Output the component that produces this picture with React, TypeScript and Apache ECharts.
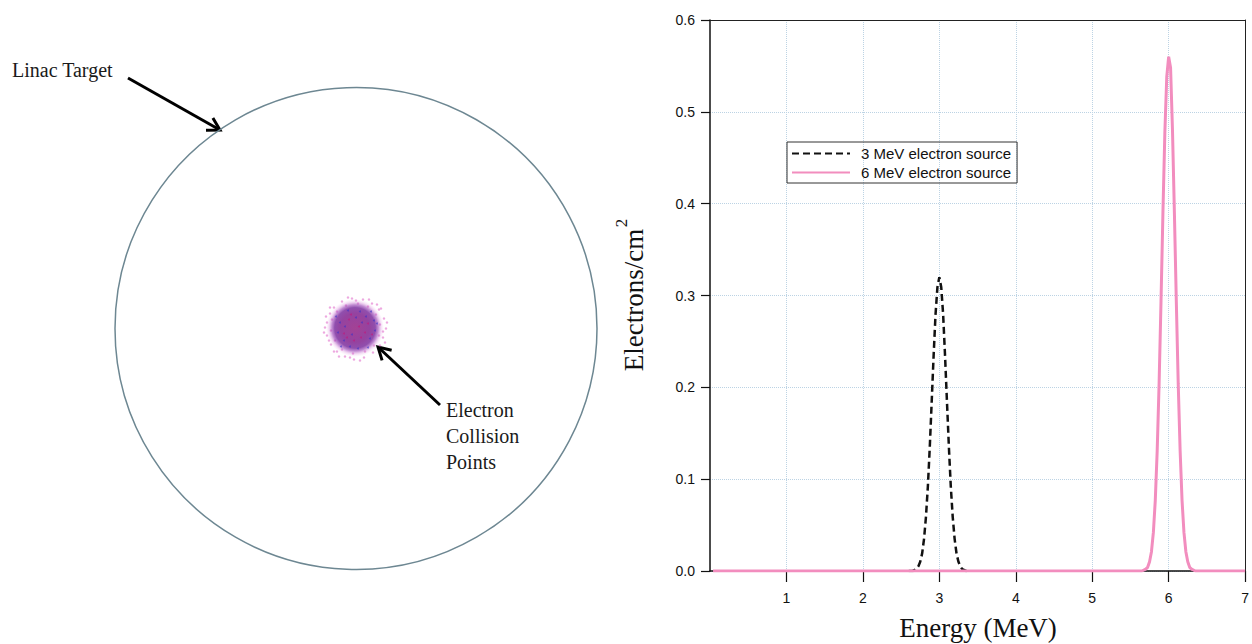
import React, { useEffect, useRef } from "react";
import * as echarts from "echarts";

// ---------- Right panel: energy spectra ----------
const energyTickValues = [1, 2, 3, 4, 5, 6, 7];
const seriesNames = ["3 MeV electron source", "6 MeV electron source"];

const energy3MeV = [
  2.6, 2.65, 2.7, 2.725, 2.75, 2.775, 2.8, 2.825, 2.85, 2.875, 2.9, 2.925, 2.95, 2.975,
  3.0, 3.025, 3.05, 3.075, 3.1, 3.125, 3.15, 3.175, 3.2, 3.225, 3.25, 3.275, 3.3, 3.35, 3.4,
];
const electrons3MeV = [
  0, 0, 0.002, 0.005, 0.01, 0.019, 0.035, 0.059, 0.092, 0.135, 0.184, 0.234, 0.279, 0.309,
  0.32, 0.309, 0.279, 0.234, 0.184, 0.135, 0.092, 0.059, 0.035, 0.019, 0.01, 0.005, 0.002, 0, 0,
];

const energy6MeV = [
  0.04, 5.6, 5.65, 5.7, 5.725, 5.75, 5.775, 5.8, 5.825, 5.85, 5.875, 5.9, 5.925, 5.95, 5.975,
  6.0, 6.025, 6.05, 6.075, 6.1, 6.125, 6.15, 6.175, 6.2, 6.225, 6.25, 6.275, 6.3, 6.35, 6.4, 7.0,
];
const electrons6MeV = [
  0, 0, 0, 0.002, 0.004, 0.01, 0.021, 0.042, 0.077, 0.131, 0.204, 0.294, 0.39, 0.477, 0.538,
  0.56, 0.548, 0.48, 0.39, 0.294, 0.204, 0.131, 0.077, 0.042, 0.021, 0.01, 0.004, 0.002, 0, 0, 0,
];

// ---------- Left panel: target and collision points (arbitrary units) ----------
const targetCircle = [[0, 0, 12.05]];
const beamSpotCenter = [[-0.05, 0.03]];
const haloPoints = [
  [-1.45, 0.3], [-1.3, 0.75], [-1.1, 1.05], [-0.7, 1.35], [-0.2, 1.5], [0.35, 1.45], [0.8, 1.25],
  [1.15, 0.95], [1.4, 0.5], [1.5, 0.0], [1.35, -0.45], [1.2, -0.85], [0.85, -1.2], [0.4, -1.45],
  [-0.1, -1.55], [-0.55, -1.4], [-0.95, -1.15], [-1.25, -0.8], [-1.45, -0.35], [-1.55, 0.05],
  [-1.2, 0.45], [-0.95, 0.85], [-0.5, 1.15], [0.1, 1.25], [0.6, 1.1], [1.0, 0.7], [1.2, 0.2],
  [1.15, -0.35], [0.9, -0.85], [0.45, -1.15], [-0.15, -1.25], [-0.7, -1.05], [-1.05, -0.6],
  [-1.25, -0.1], [-1.6, -0.2], [1.55, 0.3], [0.2, -1.6], [-0.4, 1.55], [1.05, 1.2], [-1.1, -1.15],
  [-1.5, 0.6], [1.45, -0.7], [0.65, 1.45], [-0.85, -1.4], [1.25, 1.0], [-1.3, 1.05],
  [-1.35, -0.6], [0.0, 1.4], [1.35, -0.15], [-0.3, -1.45],
];
const innerPoints = [
  [-0.8, 0.3], [0.7, -0.5], [0.9, 0.4], [-0.3, -0.9], [0.2, 0.85], [-0.6, -0.6], [0.5, 0.6],
  [-0.9, -0.2], [0.95, -0.1], [0.1, -1.0], [-0.4, 0.9], [0.6, -0.95], [-1.0, 0.6], [1.05, 0.25],
  [0.3, 0.3], [-0.2, -0.3], [0.0, 0.55], [-0.55, 0.1], [0.75, 0.85], [-0.75, -0.9],
];
const magentaPoints = [
  [0.15, 0.1], [-0.35, 0.45], [0.45, -0.2], [-0.1, -0.6], [0.6, 0.25], [-0.6, -0.25],
  [0.25, -0.45], [-0.25, 0.7], [0.8, -0.3], [-0.45, -0.45],
];

const SERIF = "'Liberation Serif', 'Times New Roman', serif";
const SANS = "'Liberation Sans', Arial, Helvetica, sans-serif";

function arrow(x1: number, y1: number, x2: number, y2: number, head = 14) {
  const dx = x2 - x1;
  const dy = y2 - y1;
  const len = Math.hypot(dx, dy);
  const bx = -dx / len;
  const by = -dy / len;
  const rot = (a: number) => [
    x2 + head * (bx * Math.cos(a) - by * Math.sin(a)),
    y2 + head * (bx * Math.sin(a) + by * Math.cos(a)),
  ];
  const a1 = rot(Math.PI / 6);
  const a2 = rot(-Math.PI / 6);
  return [
    { type: "line", shape: { x1, y1, x2, y2 }, style: { stroke: "#000", lineWidth: 3 } },
    {
      type: "polyline",
      shape: { points: [a1, [x2, y2], a2] },
      style: { stroke: "#000", lineWidth: 3, fill: "none" },
    },
  ];
}

export default function App() {
  const ref = useRef<HTMLDivElement>(null);

  useEffect(() => {
    if (!ref.current) return;
    const chart = echarts.init(ref.current, null, { renderer: "svg" });

    const frameAxis = {
      type: "value",
      gridIndex: 0,
      axisLine: { show: true, onZero: false, lineStyle: { color: "#222", width: 1 } },
      axisTick: { show: false },
      axisLabel: { show: false },
      splitLine: { show: false },
    };

    const option: any = {
      animation: false,
      backgroundColor: "#fff",
      legend: {
        data: seriesNames,
        orient: "vertical",
        left: 787,
        top: 142,
        itemWidth: 58,
        itemHeight: 12,
        itemGap: 4,
        padding: [4, 6, 3, 4],
        borderColor: "#333",
        borderWidth: 1,
        itemStyle: { opacity: 0 },
        textStyle: { fontFamily: SANS, fontSize: 15, color: "#111", padding: [0, 0, 0, 6] },
      },
      grid: [
        { left: 710, right: 6, top: 20, bottom: 73, show: false },
        { left: 106, top: 78.5, width: 500, height: 500, show: false },
      ],
      xAxis: [
        {
          type: "value",
          gridIndex: 0,
          min: 0,
          max: 7,
          interval: 1,
          axisLine: { show: true, onZero: false, lineStyle: { color: "#111", width: 1.5 } },
          axisTick: {
            show: true,
            inside: false,
            length: 11,
            customValues: energyTickValues,
            lineStyle: { color: "#111", width: 1.2 },
          },
          axisLabel: {
            customValues: energyTickValues,
            margin: 20,
            fontFamily: SANS,
            fontSize: 14,
            color: "#111",
          },
          splitLine: {
            show: true,
            lineStyle: { color: "#bcd3e4", type: "dotted", width: 1 },
          },
        },
        { type: "value", gridIndex: 1, min: -12.5, max: 12.5, show: false },
        { ...frameAxis, position: "top", min: 0, max: 7 },
      ],
      yAxis: [
        {
          type: "value",
          gridIndex: 0,
          min: 0,
          max: 0.6,
          interval: 0.1,
          axisLine: { show: true, lineStyle: { color: "#111", width: 1.5 } },
          axisTick: { show: true, inside: false, length: 9, lineStyle: { color: "#111", width: 1.2 } },
          axisLabel: {
            margin: 15,
            fontFamily: SANS,
            fontSize: 14,
            color: "#111",
            formatter: (v: number) => v.toFixed(1),
          },
          splitLine: {
            show: true,
            lineStyle: { color: "#bcd3e4", type: "dotted", width: 1 },
          },
        },
        { type: "value", gridIndex: 1, min: -12.5, max: 12.5, show: false },
        { ...frameAxis, position: "right", min: 0, max: 0.6 },
      ],
      series: [
        {
          name: seriesNames[0],
          type: "line",
          xAxisIndex: 0,
          yAxisIndex: 0,
          data: energy3MeV.map((e, i) => [e, electrons3MeV[i]]),
          symbol: "none",
          color: "#111",
          lineStyle: { color: "#111", width: 2.5, type: [7, 4] },
          z: 3,
        },
        {
          name: seriesNames[1],
          type: "line",
          xAxisIndex: 0,
          yAxisIndex: 0,
          data: energy6MeV.map((e, i) => [e, electrons6MeV[i]]),
          symbol: "none",
          color: "#F28DBE",
          lineStyle: { color: "#F28DBE", width: 3 },
          z: 4,
        },
        {
          name: "Linac Target",
          type: "custom",
          xAxisIndex: 1,
          yAxisIndex: 1,
          data: targetCircle,
          encode: { x: 0, y: 1 },
          renderItem: (_params: any, api: any) => {
            const c = api.coord([api.value(0), api.value(1)]);
            const r = api.size([api.value(2), 0])[0];
            return {
              type: "circle",
              shape: { cx: c[0], cy: c[1], r },
              style: { fill: "none", stroke: "#6d8792", lineWidth: 1.5 },
            };
          },
          silent: true,
        },
        {
          name: "Halo",
          type: "scatter",
          xAxisIndex: 1,
          yAxisIndex: 1,
          data: haloPoints,
          symbolSize: 2.5,
          itemStyle: { color: "rgba(220,90,195,0.65)" },
          silent: true,
        },
        {
          name: "Electron Collision Points",
          type: "scatter",
          xAxisIndex: 1,
          yAxisIndex: 1,
          data: beamSpotCenter,
          symbolSize: 58,
          itemStyle: {
            color: new echarts.graphic.RadialGradient(0.5, 0.5, 0.5, [
              { offset: 0, color: "#8c137a" },
              { offset: 0.5, color: "#7a1488" },
              { offset: 0.7, color: "rgba(112,28,150,0.97)" },
              { offset: 0.8, color: "rgba(145,50,175,0.7)" },
              { offset: 0.9, color: "rgba(205,110,210,0.3)" },
              { offset: 1, color: "rgba(240,170,230,0.0)" },
            ]),
          },
          silent: true,
        },
        {
          name: "Inner",
          type: "scatter",
          xAxisIndex: 1,
          yAxisIndex: 1,
          data: innerPoints,
          symbolSize: 2,
          itemStyle: { color: "rgba(60,50,200,0.75)" },
          silent: true,
        },
        {
          name: "Core hits",
          type: "scatter",
          xAxisIndex: 1,
          yAxisIndex: 1,
          data: magentaPoints,
          symbolSize: 2,
          itemStyle: { color: "rgba(200,20,120,0.7)" },
          silent: true,
        },
      ],
      graphic: [
        {
          type: "text",
          x: 634,
          y: 300,
          rotation: Math.PI / 2,
          style: {
            text: "Electrons/cm",
            font: `27px ${SERIF}`,
            fill: "#111",
            align: "center",
            verticalAlign: "middle",
          },
        },
        {
          type: "text",
          x: 621,
          y: 223,
          rotation: Math.PI / 2,
          style: {
            text: "2",
            font: `17px ${SERIF}`,
            fill: "#111",
            align: "center",
            verticalAlign: "middle",
          },
        },
        {
          type: "text",
          x: 978,
          y: 628,
          style: {
            text: "Energy (MeV)",
            font: `27px ${SERIF}`,
            fill: "#111",
            align: "center",
            verticalAlign: "middle",
          },
        },
        {
          type: "text",
          x: 12,
          y: 70,
          style: {
            text: "Linac Target",
            font: `20px ${SERIF}`,
            fill: "#1a1a1a",
            align: "left",
            verticalAlign: "middle",
          },
        },
        {
          type: "text",
          x: 446,
          y: 397,
          style: {
            text: "Electron\nCollision\nPoints",
            font: `20px ${SERIF}`,
            lineHeight: 26,
            fill: "#1a1a1a",
            align: "left",
            verticalAlign: "top",
          },
        },
        ...arrow(128, 78, 220, 130),
        ...arrow(440, 405, 378, 347),
      ],
    };

    chart.setOption(option);
    return () => chart.dispose();
  }, []);

  return (
    <div
      ref={ref}
      style={{ position: "fixed", left: 0, top: 0, width: 1252, height: 644 }}
    />
  );
}
